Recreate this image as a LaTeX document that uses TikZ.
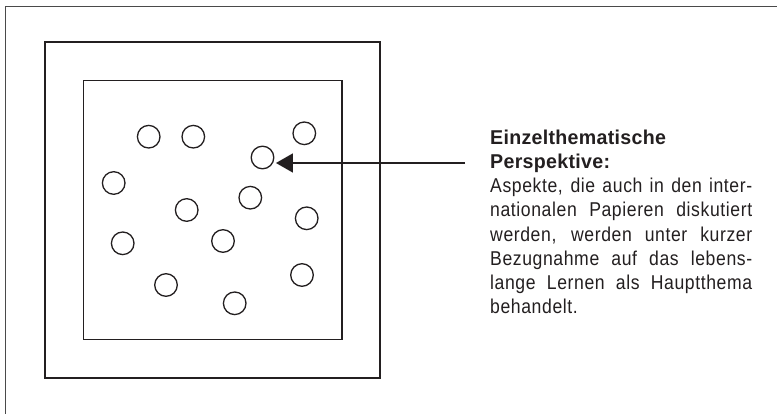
\documentclass[tikz,border=0pt]{standalone}
\usepackage{fontspec}
\setmainfont{Liberation Sans}[FakeStretch=0.88,LetterSpace=3,BoldFeatures={FakeStretch=0.98,LetterSpace=1.5}]
\usetikzlibrary{arrows.meta}
\definecolor{ink}{HTML}{231F20}
\definecolor{framegray}{HTML}{4A4A4A}
\begin{document}
\begin{tikzpicture}[x=1pt,y=-1pt,
  framestyle/.style={draw=framegray,line width=1.3pt},
  sq/.style={draw=ink,line width=1.6pt,inner sep=0pt,rectangle},
  dot/.style={draw=ink,line width=1.3pt,circle,inner sep=0pt,minimum size=22.6pt},
  txt/.style={inner sep=0pt,anchor=base west,text=ink,font=\fontsize{20}{24}\selectfont},
  arr/.style={draw=ink,line width=1.7pt,-{Triangle[length=17pt,width=19pt]}}]
\useasboundingbox (0,0) rectangle (777,414);
% page frame
\draw[framestyle] (5.7,414) -- (5.7,6.5) -- (777,6.5);
% squares
\node[sq,minimum width=335pt,minimum height=335.4pt] (outer) at (212.5,210) {};
\node[sq,minimum width=258.4pt,minimum height=258.6pt] (inner) at (212.5,210) {};
% circles
\node[dot] (c1) at (148.7,136.7) {};
\node[dot] (c2) at (193.3,136.7) {};
\node[dot] (c3) at (304.3,133.3) {};
\node[dot] (c4) at (262.5,157.5) {};
\node[dot] (c5) at (113.7,183) {};
\node[dot] (c6) at (186.7,210) {};
\node[dot] (c7) at (250.3,197.7) {};
\node[dot] (c8) at (306.7,218.3) {};
\node[dot] (c9) at (122.7,243.3) {};
\node[dot] (c10) at (223,241) {};
\node[dot] (c11) at (166,285) {};
\node[dot] (c12) at (302,275) {};
\node[dot] (c13) at (234.7,303.3) {};
% text
\node[txt] (t1) at (490,144.2) {\bfseries Einzelthematische};
\node[txt] (t2) at (490,168.4) {\bfseries Perspektive:};
\node[txt] (t3) at (490,192.7) {\makebox[262pt][s]{Aspekte, die auch in den inter-}};
\node[txt] (t4) at (490,216.9) {\makebox[262pt][s]{nationalen Papieren diskutiert}};
\node[txt] (t5) at (490,241.2) {\makebox[262pt][s]{werden, werden unter kurzer}};
\node[txt] (t6) at (490,265.4) {\makebox[262pt][s]{Bezugnahme auf das lebens-}};
\node[txt] (t7) at (490,289.7) {\makebox[262pt][s]{lange Lernen als Hauptthema}};
\node[txt] (t8) at (490,313.9) {behandelt.};
% arrow
\coordinate (astart) at (465,163);
\path (c4.east |- astart) coordinate (aend0);
\draw[arr] (astart) -- ([xshift=1.5pt]aend0);
\end{tikzpicture}
\end{document}
